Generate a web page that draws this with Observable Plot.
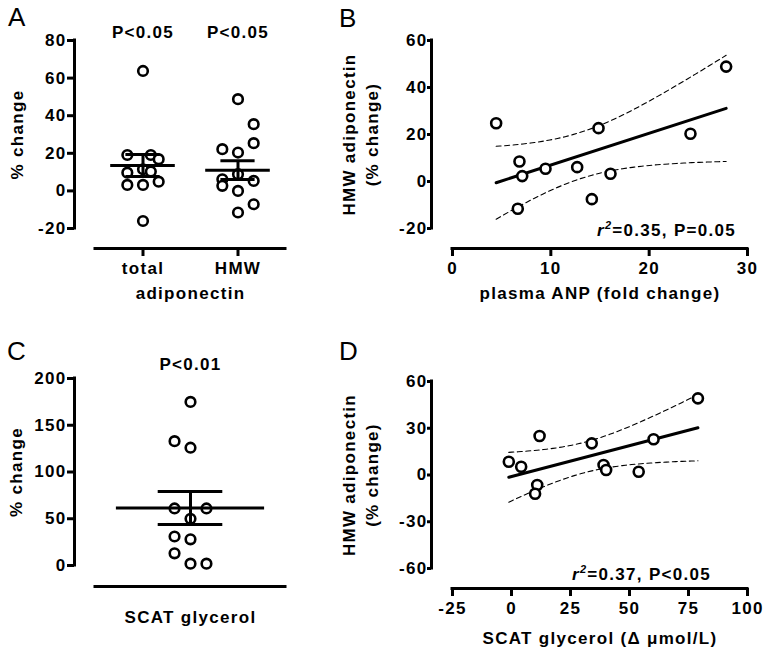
<!DOCTYPE html>
<html>
<head>
<meta charset="utf-8">
<script src="https://cdn.jsdelivr.net/npm/d3@7"></script>
<script src="https://cdn.jsdelivr.net/npm/@observablehq/plot@0.6"></script>
<style>
  html, body { margin: 0; padding: 0; background: #fff; }
  #fig { position: relative; width: 768px; height: 652px; overflow: hidden; background: #fff; color: #000;
         font-family: "Liberation Sans", Arial, Helvetica, sans-serif; }
  .panel { position: absolute; }
  .panel svg { display: block; max-width: none; }
  .letter { position: absolute; font-size: 26px; line-height: 26px; font-weight: normal; }
</style>
</head>
<body>
<div id="fig"></div>
<script>
// ---------------- data ----------------
// Panel A: % change of adiponectin (column scatter)
const groupsA = ["total", "HMW"];
const totalAdiponectin = [63.8, 19.1, 19.1, 16.9, 11.5, 9.7, 10.3, 3.2, 3.2, 4.9, -16.0];
const totalColumn      = [0, -1, 0.5, 1, 0, -1, 0.5, -1, 0, 1, 0];
const hmwAdiponectin   = [48.8, 35.5, 25.4, 22.2, 20.4, 8.9, 6.2, 2.7, 5.3, 0.0, -7.1, -11.5];
const hmwColumn        = [0, 1, 1, -1, 0, 0, -1, -1, 1, 0, 1, 0];
const meanA = [13.5, 11.0];
const semA  = [5.8, 5.0];
const pA = ["P<0.05", "P<0.05"];
const yTicksA = [-20, 0, 20, 40, 60, 80];

// Panel B: HMW adiponectin vs plasma ANP
const anpFoldChange = [4.44, 6.81, 7.09, 6.64, 9.46, 12.68, 14.85, 14.17, 16.07, 24.2, 27.83];
const hmwChangeB    = [24.8, 8.5, 2.3, -11.6, 5.4, 6.1, 22.7, -7.5, 3.3, 20.3, 48.9];
const xTicksB = [0, 10, 20, 30];
const yTicksB = [-20, 0, 20, 40, 60];
const statB = "=0.35, P=0.05";

// Panel C: % change of SCAT glycerol (column scatter)
const groupsC = ["SCAT glycerol"];
const scatGlycerol   = [175, 133, 126, 61, 61, 50, 31, 28, 13, 2, 2];
const glycerolColumn = [0, -1, 0, -1, 1, 0, -1, 0, -1, 0, 1];
const meanC = [61.5];
const semC  = [17.7];
const pC = ["P<0.01"];
const yTicksC = [0, 50, 100, 150, 200];

// Panel D: HMW adiponectin vs SCAT glycerol
const glycerolDelta = [-1.14, 4.1, 11.9, 10.9, 10.0, 34.0, 39.0, 40.1, 53.9, 60.2, 79.0];
const hmwChangeD    = [8.5, 5.3, 25.0, -6.4, -12.0, 20.3, 6.4, 3.2, 2.1, 22.9, 49.2];
const xTicksD = [-25, 0, 25, 50, 75, 100];
const yTicksD = [-60, -30, 0, 30, 60];
const statD = "=0.37, P<0.05";

const T975_DF9 = 2.262; // Student t quantile, n-2 = 9 df

// ---------------- helpers ----------------
const FONT = "'Liberation Sans', Arial, Helvetica, sans-serif";
const FS = 17;
const STYLE = {fontFamily: FONT, fontSize: FS + "px", fontWeight: "bold", letterSpacing: "1.3px", overflow: "visible", color: "#000"};
const AXIS_W = 3;
const fmt = d => String(d);
const fig = document.getElementById("fig");

function place(node, left, top) {
  const div = document.createElement("div");
  div.className = "panel";
  div.style.left = left + "px";
  div.style.top = top + "px";
  div.appendChild(node);
  fig.appendChild(div);
}
function letter(txt, left, top) {
  const d = document.createElement("div");
  d.className = "letter";
  d.textContent = txt;
  d.style.left = left + "px";
  d.style.top = top + "px";
  fig.appendChild(d);
}

function axisLines(xmin, xmax, ymin, ymax, gapX, gapY) {
  return [
    Plot.ruleX([xmin], {y1: () => ymin, y2: () => ymax, dx: -gapX, strokeWidth: AXIS_W, strokeLinecap: "square"}),
    Plot.ruleY([ymin], {x1: () => xmin, x2: () => xmax, dy: gapY, strokeWidth: AXIS_W, strokeLinecap: "square"})
  ];
}
function yAxis(ticks, tickSize, tickPadding) {
  return Plot.axisY(ticks, {anchor: "left", tickSize, tickPadding, strokeWidth: AXIS_W, label: null,
    tickFormat: fmt, fontSize: FS, fontWeight: "bold"});
}
function yTitle(label, ymin, ymax, dx) {
  return Plot.text([label], {text: d => d, frameAnchor: "left", y: () => (ymin + ymax) / 2, rotate: -90,
    textAnchor: "middle", lineAnchor: "middle", lineHeight: 1.35, dx, fontSize: FS});
}
function xTitle(label, xmin, xmax, dy) {
  return Plot.text([label], {text: d => d, frameAnchor: "bottom", x: () => (xmin + xmax) / 2,
    textAnchor: "middle", lineAnchor: "middle", dy, fontSize: FS});
}

function columnPanel(o) {
  const [ymin, ymax] = d3.extent(o.yTicks);
  const [xmin, xmax] = o.xDomain;
  const points = o.groups.flatMap((g, gi) =>
    o.values[gi].map((v, k) => ({x: o.positions[gi] + o.columns[gi][k] * o.jitter, y: v})));
  const stats = o.groups.map((g, gi) => ({pos: o.positions[gi], mean: o.means[gi], sem: o.sems[gi], p: o.pLabels[gi]}));
  const marks = [
    ...axisLines(xmin, xmax, ymin, ymax, o.gapX, o.gapY),
    yAxis(o.yTicks, 7, 1),
    Plot.dot(points, {x: "x", y: "y", r: 4.8, fill: "white", stroke: "black", strokeWidth: 2.6}),
    Plot.ruleY(stats, {y: "mean", x1: d => d.pos - o.meanHalf, x2: d => d.pos + o.meanHalf, strokeWidth: 3}),
    Plot.ruleY(stats, {y: d => d.mean + d.sem, x1: d => d.pos - o.whiskerHalf, x2: d => d.pos + o.whiskerHalf, strokeWidth: 3}),
    Plot.ruleY(stats, {y: d => d.mean - d.sem, x1: d => d.pos - o.whiskerHalf, x2: d => d.pos + o.whiskerHalf, strokeWidth: 3}),
    Plot.ruleX(stats, {x: "pos", y1: d => d.mean - d.sem, y2: d => d.mean + d.sem, strokeWidth: 3}),
    Plot.text(stats, {x: "pos", text: "p", frameAnchor: "top", textAnchor: "middle", lineAnchor: "middle", dy: o.pDy, fontSize: FS}),
    yTitle(o.yLabel, ymin, ymax, o.yLabelDx),
    xTitle(o.xLabel, xmin, xmax, o.xLabelDy)
  ];
  if (o.showTicks) {
    marks.push(Plot.axisX(o.positions, {anchor: "bottom", tickSize: 8, tickPadding: 5, strokeWidth: AXIS_W, label: null,
      fontSize: FS, fontWeight: "bold", tickFormat: d => o.groups[o.positions.indexOf(d)]}));
  }
  return Plot.plot({
    width: o.width, height: o.height,
    marginTop: o.marginTop, marginBottom: o.marginBottom, marginLeft: o.marginLeft, marginRight: o.marginRight,
    x: {domain: o.xDomain, insetLeft: o.gapX, label: null, axis: null},
    y: {domain: [ymin, ymax], insetBottom: o.gapY, label: null, axis: null},
    style: STYLE,
    marks
  });
}

function regression(xs, ys, t) {
  const n = xs.length, mx = d3.mean(xs), my = d3.mean(ys);
  const sxx = d3.sum(xs, x => (x - mx) ** 2);
  const sxy = d3.sum(xs.map((x, i) => (x - mx) * (ys[i] - my)));
  const b = sxy / sxx, a = my - b * mx;
  const sse = d3.sum(xs.map((x, i) => (ys[i] - a - b * x) ** 2));
  const s = Math.sqrt(sse / (n - 2));
  const [x0, x1] = d3.extent(xs);
  const hw = x => t * s * Math.sqrt(1 / n + (x - mx) ** 2 / sxx);
  const grid = d3.range(0, 61).map(k => x0 + (x1 - x0) * k / 60);
  return {
    fit: [x0, x1].map(x => ({x, y: a + b * x})),
    upper: grid.map(x => ({x, y: a + b * x + hw(x)})),
    lower: grid.map(x => ({x, y: a + b * x - hw(x)}))
  };
}

function xyPanel(o) {
  const [xmin, xmax] = d3.extent(o.xTicks);
  const [ymin, ymax] = d3.extent(o.yTicks);
  const pts = o.xs.map((x, i) => ({x, y: o.ys[i]}));
  const reg = regression(o.xs, o.ys, T975_DF9);
  const svg = Plot.plot({
    width: o.width, height: o.height,
    marginTop: o.marginTop, marginBottom: o.marginBottom, marginLeft: o.marginLeft, marginRight: o.marginRight,
    x: {domain: [xmin, xmax], insetLeft: o.gapX, label: null, axis: null},
    y: {domain: [ymin, ymax], insetBottom: o.gapY, label: null, axis: null},
    style: STYLE,
    marks: [
      ...axisLines(xmin, xmax, ymin, ymax, o.gapX, o.gapY),
      yAxis(o.yTicks, 4, 0),
      Plot.axisX(o.xTicks, {anchor: "bottom", tickSize: 8, tickPadding: 5, strokeWidth: AXIS_W, label: null,
        tickFormat: fmt, fontSize: FS, fontWeight: "bold"}),
      Plot.line(reg.upper, {x: "x", y: "y", strokeWidth: 1.1, strokeDasharray: "5,3.5"}),
      Plot.line(reg.lower, {x: "x", y: "y", strokeWidth: 1.1, strokeDasharray: "5,3.5"}),
      Plot.line(reg.fit, {x: "x", y: "y", strokeWidth: 3}),
      Plot.dot(pts, {x: "x", y: "y", r: 5, fill: "white", stroke: "black", strokeWidth: 2.6}),
      yTitle(o.yLabel, ymin, ymax, o.yLabelDx),
      xTitle(o.xLabel, xmin, xmax, o.xLabelDy)
    ]
  });
  const t = d3.select(svg).append("text")
    .attr("x", o.statX).attr("y", o.statY)
    .attr("text-anchor", "start").attr("font-size", FS).attr("font-weight", "bold");
  t.append("tspan").attr("font-style", "italic").text("r");
  t.append("tspan").attr("font-style", "italic").attr("font-size", 11).attr("dy", -7).text("2");
  t.append("tspan").attr("dy", 7).text(o.stat);
  return svg;
}

// ---------------- panels ----------------
place(columnPanel({
  groups: groupsA, positions: [1, 2], values: [totalAdiponectin, hmwAdiponectin], columns: [totalColumn, hmwColumn],
  means: meanA, sems: semA, pLabels: pA, yTicks: yTicksA, xDomain: [0.5, 2.5], jitter: 0.165,
  meanHalf: 0.34, whiskerHalf: 0.18, showTicks: true,
  yLabel: "% change", xLabel: "adiponectin",
  width: 320, height: 320, marginTop: 40, marginBottom: 72, marginLeft: 74, marginRight: 35, gapX: 21, gapY: 20,
  pDy: -7.5, yLabelDx: -59, xLabelDy: 45
}), 0, 0);

place(xyPanel({
  xs: anpFoldChange, ys: hmwChangeB, xTicks: xTicksB, yTicks: yTicksB, stat: statB,
  yLabel: "HMW adiponectin\n(% change)", xLabel: "plasma ANP (fold change)",
  width: 448, height: 320, marginTop: 40, marginBottom: 72, marginLeft: 111, marginRight: 21, gapX: 21, gapY: 20,
  yLabelDx: -72, xLabelDy: 45, statX: 277, statY: 236
}), 320, 0);

place(columnPanel({
  groups: groupsC, positions: [1], values: [scatGlycerol], columns: [glycerolColumn],
  means: meanC, sems: semC, pLabels: pC, yTicks: yTicksC, xDomain: [0, 2], jitter: 0.168,
  meanHalf: 0.78, whiskerHalf: 0.34, showTicks: false,
  yLabel: "% change", xLabel: "SCAT glycerol",
  width: 320, height: 332, marginTop: 58, marginBottom: 66, marginLeft: 74, marginRight: 35, gapX: 21, gapY: 21,
  pDy: -14, yLabelDx: -60, xLabelDy: 31
}), 0, 320);

place(xyPanel({
  xs: glycerolDelta, ys: hmwChangeD, xTicks: xTicksD, yTicks: yTicksD, stat: statD,
  yLabel: "HMW adiponectin\n(% change)", xLabel: "SCAT glycerol (\u0394 \u03bcmol/L)",
  width: 448, height: 332, marginTop: 61, marginBottom: 64, marginLeft: 111, marginRight: 21, gapX: 21, gapY: 20,
  yLabelDx: -72, xLabelDy: 50, statX: 252, statY: 260
}), 320, 320);

letter("A", 8, 4);
letter("B", 339, 5);
letter("C", 7, 338);
letter("D", 339, 338);
</script>
</body>
</html>
